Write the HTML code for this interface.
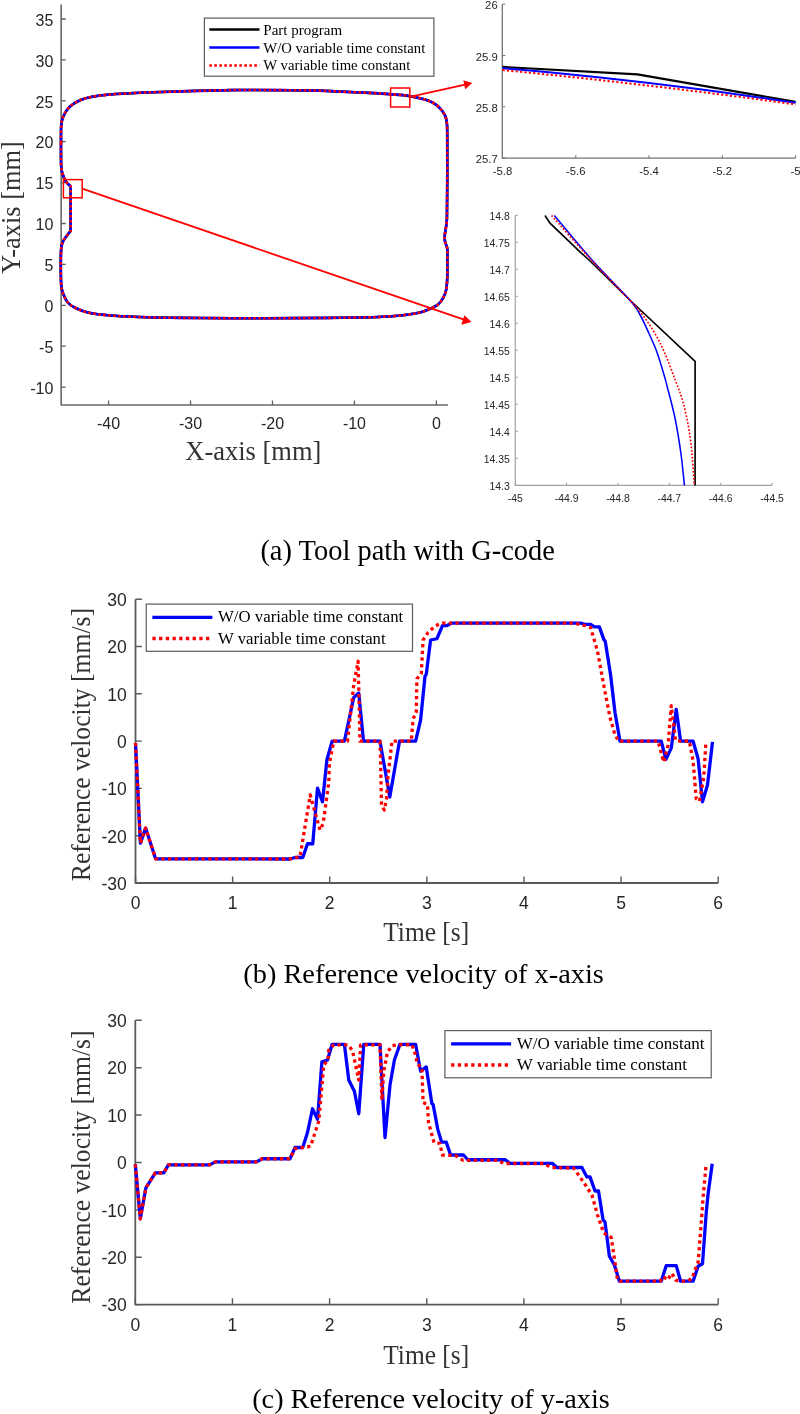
<!DOCTYPE html>
<html lang="en"><head><meta charset="utf-8"><title>Tool path and reference velocity</title>
<style>
html,body{margin:0;padding:0;background:#fff;}
body{width:800px;height:1414px;overflow:hidden;}
svg{display:block;will-change:transform;}
.sans{font-family:"Liberation Sans",Arial,Helvetica,sans-serif;fill:#262626;}
.serif{font-family:"Liberation Serif","Times New Roman",Times,serif;}
.lbl{fill:#333;}
.cap{fill:#000;}
.leg{fill:#000;}
</style></head><body>
<svg width="800" height="1414" viewBox="0 0 800 1414">
<rect x="0" y="0" width="800" height="1414" fill="#ffffff"/>

<g id="plot-a">
<path d="M61.15,4.4V405.0H447.9" fill="none" stroke="#686868" stroke-width="1.6" stroke-linejoin="round"/>
<path d="M61.15,19.00h4.6M61.15,59.90h4.6M61.15,100.80h4.6M61.15,141.70h4.6M61.15,182.60h4.6M61.15,223.50h4.6M61.15,264.40h4.6M61.15,305.30h4.6M61.15,346.20h4.6M61.15,387.10h4.6M108.60,405.0v-4.6M190.55,405.0v-4.6M272.50,405.0v-4.6M354.45,405.0v-4.6M436.40,405.0v-4.6" fill="none" stroke="#5e5e5e" stroke-width="1.3"/>
<text class="sans" x="53.3" y="25.70" font-size="16" text-anchor="end">35</text>
<text class="sans" x="53.3" y="66.60" font-size="16" text-anchor="end">30</text>
<text class="sans" x="53.3" y="107.50" font-size="16" text-anchor="end">25</text>
<text class="sans" x="53.3" y="148.40" font-size="16" text-anchor="end">20</text>
<text class="sans" x="53.3" y="189.30" font-size="16" text-anchor="end">15</text>
<text class="sans" x="53.3" y="230.20" font-size="16" text-anchor="end">10</text>
<text class="sans" x="53.3" y="271.10" font-size="16" text-anchor="end">5</text>
<text class="sans" x="53.3" y="312.00" font-size="16" text-anchor="end">0</text>
<text class="sans" x="53.3" y="352.90" font-size="16" text-anchor="end">-5</text>
<text class="sans" x="53.3" y="393.80" font-size="16" text-anchor="end">-10</text>
<text class="sans" x="108.60" y="428.6" font-size="16" text-anchor="middle">-40</text>
<text class="sans" x="190.55" y="428.6" font-size="16" text-anchor="middle">-30</text>
<text class="sans" x="272.50" y="428.6" font-size="16" text-anchor="middle">-20</text>
<text class="sans" x="354.45" y="428.6" font-size="16" text-anchor="middle">-10</text>
<text class="sans" x="436.40" y="428.6" font-size="16" text-anchor="middle">0</text>
<text class="serif lbl" x="185.3" y="460.3" font-size="28" textLength="136" lengthAdjust="spacingAndGlyphs">X-axis [mm]</text>
<text class="serif lbl" transform="translate(20.1,273.8) rotate(-90)" font-size="28" textLength="132.5" lengthAdjust="spacingAndGlyphs">Y-axis [mm]</text>
<path d="M61.00,143.00C61.04,140.00 60.83,129.50 61.25,125.00C61.67,120.50 62.12,119.00 63.50,116.00C64.88,113.00 66.75,109.62 69.50,107.00C72.25,104.38 76.25,101.95 80.00,100.25C83.75,98.55 87.00,97.76 92.00,96.80C97.00,95.84 102.00,95.17 110.00,94.50C118.00,93.83 130.00,93.22 140.00,92.75C150.00,92.28 154.58,92.14 170.00,91.70C185.42,91.26 212.50,90.35 232.50,90.10C252.50,89.85 275.62,90.12 290.00,90.20C304.38,90.28 310.42,90.37 318.75,90.60C327.08,90.83 331.46,91.22 340.00,91.60C348.54,91.98 361.50,92.47 370.00,92.90C378.50,93.33 384.50,93.68 391.00,94.20C397.50,94.72 403.50,95.15 409.00,96.00C414.50,96.85 420.00,98.17 424.00,99.30C428.00,100.42 430.38,101.30 433.00,102.75C435.62,104.20 437.75,105.88 439.75,108.00C441.75,110.12 443.79,112.75 445.00,115.50C446.21,118.25 446.62,118.75 447.00,124.50C447.38,130.25 447.21,140.75 447.25,150.00C447.29,159.25 447.29,170.00 447.25,180.00C447.21,190.00 447.09,203.00 447.00,210.00C446.91,217.00 447.07,217.75 446.70,222.00C446.32,226.25 445.03,232.25 444.75,235.50C444.47,238.75 444.57,239.25 445.00,241.50C445.43,243.75 446.92,245.58 447.30,249.00C447.68,252.42 447.30,257.50 447.30,262.00C447.30,266.50 447.48,271.42 447.30,276.00C447.12,280.58 446.93,285.88 446.25,289.50C445.57,293.12 444.62,295.25 443.25,297.75C441.88,300.25 440.12,302.68 438.00,304.50C435.88,306.32 433.50,307.37 430.50,308.70C427.50,310.03 424.25,311.45 420.00,312.50C415.75,313.55 411.25,314.28 405.00,315.00C398.75,315.72 390.00,316.38 382.50,316.80C375.00,317.22 373.75,317.28 360.00,317.50C346.25,317.72 318.33,317.97 300.00,318.10C281.67,318.23 266.67,318.32 250.00,318.30C233.33,318.28 213.33,318.09 200.00,318.00C186.67,317.91 180.00,317.92 170.00,317.75C160.00,317.58 150.00,317.38 140.00,317.00C130.00,316.62 118.50,316.20 110.00,315.50C101.50,314.80 94.75,314.05 89.00,312.80C83.25,311.55 79.00,309.68 75.50,308.00C72.00,306.32 70.00,305.00 68.00,302.75C66.00,300.50 64.62,297.38 63.50,294.50C62.38,291.62 61.70,290.50 61.25,285.50C60.80,280.50 60.80,270.75 60.80,264.50C60.80,258.25 60.80,252.00 61.25,248.00C61.70,244.00 62.50,242.62 63.50,240.50C64.50,238.38 66.05,236.88 67.25,235.25C68.45,233.62 70.12,231.50 70.70,230.75L70.70,186.50C69.88,185.62 67.08,183.25 65.75,181.25C64.42,179.25 63.50,176.88 62.75,174.50C62.00,172.12 61.54,170.25 61.25,167.00C60.96,163.75 61.04,159.00 61.00,155.00C60.96,151.00 61.00,145.00 61.00,143.00" fill="none" stroke="#000" stroke-width="2.5" stroke-linejoin="round"/>
<path d="M61.00,143.00C61.04,140.00 60.83,129.50 61.25,125.00C61.67,120.50 62.12,119.00 63.50,116.00C64.88,113.00 66.75,109.62 69.50,107.00C72.25,104.38 76.25,101.95 80.00,100.25C83.75,98.55 87.00,97.76 92.00,96.80C97.00,95.84 102.00,95.17 110.00,94.50C118.00,93.83 130.00,93.22 140.00,92.75C150.00,92.28 154.58,92.14 170.00,91.70C185.42,91.26 212.50,90.35 232.50,90.10C252.50,89.85 275.62,90.12 290.00,90.20C304.38,90.28 310.42,90.37 318.75,90.60C327.08,90.83 331.46,91.22 340.00,91.60C348.54,91.98 361.50,92.47 370.00,92.90C378.50,93.33 384.50,93.68 391.00,94.20C397.50,94.72 403.50,95.15 409.00,96.00C414.50,96.85 420.00,98.17 424.00,99.30C428.00,100.42 430.38,101.30 433.00,102.75C435.62,104.20 437.75,105.88 439.75,108.00C441.75,110.12 443.79,112.75 445.00,115.50C446.21,118.25 446.62,118.75 447.00,124.50C447.38,130.25 447.21,140.75 447.25,150.00C447.29,159.25 447.29,170.00 447.25,180.00C447.21,190.00 447.09,203.00 447.00,210.00C446.91,217.00 447.07,217.75 446.70,222.00C446.32,226.25 445.03,232.25 444.75,235.50C444.47,238.75 444.57,239.25 445.00,241.50C445.43,243.75 446.92,245.58 447.30,249.00C447.68,252.42 447.30,257.50 447.30,262.00C447.30,266.50 447.48,271.42 447.30,276.00C447.12,280.58 446.93,285.88 446.25,289.50C445.57,293.12 444.62,295.25 443.25,297.75C441.88,300.25 440.12,302.68 438.00,304.50C435.88,306.32 433.50,307.37 430.50,308.70C427.50,310.03 424.25,311.45 420.00,312.50C415.75,313.55 411.25,314.28 405.00,315.00C398.75,315.72 390.00,316.38 382.50,316.80C375.00,317.22 373.75,317.28 360.00,317.50C346.25,317.72 318.33,317.97 300.00,318.10C281.67,318.23 266.67,318.32 250.00,318.30C233.33,318.28 213.33,318.09 200.00,318.00C186.67,317.91 180.00,317.92 170.00,317.75C160.00,317.58 150.00,317.38 140.00,317.00C130.00,316.62 118.50,316.20 110.00,315.50C101.50,314.80 94.75,314.05 89.00,312.80C83.25,311.55 79.00,309.68 75.50,308.00C72.00,306.32 70.00,305.00 68.00,302.75C66.00,300.50 64.62,297.38 63.50,294.50C62.38,291.62 61.70,290.50 61.25,285.50C60.80,280.50 60.80,270.75 60.80,264.50C60.80,258.25 60.80,252.00 61.25,248.00C61.70,244.00 62.50,242.62 63.50,240.50C64.50,238.38 66.05,236.88 67.25,235.25C68.45,233.62 70.12,231.50 70.70,230.75L70.70,186.50C69.88,185.62 67.08,183.25 65.75,181.25C64.42,179.25 63.50,176.88 62.75,174.50C62.00,172.12 61.54,170.25 61.25,167.00C60.96,163.75 61.04,159.00 61.00,155.00C60.96,151.00 61.00,145.00 61.00,143.00" fill="none" stroke="#0000ff" stroke-width="2.6" stroke-linejoin="round"/>
<path d="M61.00,143.00C61.04,140.00 60.83,129.50 61.25,125.00C61.67,120.50 62.12,119.00 63.50,116.00C64.88,113.00 66.75,109.62 69.50,107.00C72.25,104.38 76.25,101.95 80.00,100.25C83.75,98.55 87.00,97.76 92.00,96.80C97.00,95.84 102.00,95.17 110.00,94.50C118.00,93.83 130.00,93.22 140.00,92.75C150.00,92.28 154.58,92.14 170.00,91.70C185.42,91.26 212.50,90.35 232.50,90.10C252.50,89.85 275.62,90.12 290.00,90.20C304.38,90.28 310.42,90.37 318.75,90.60C327.08,90.83 331.46,91.22 340.00,91.60C348.54,91.98 361.50,92.47 370.00,92.90C378.50,93.33 384.50,93.68 391.00,94.20C397.50,94.72 403.50,95.15 409.00,96.00C414.50,96.85 420.00,98.17 424.00,99.30C428.00,100.42 430.38,101.30 433.00,102.75C435.62,104.20 437.75,105.88 439.75,108.00C441.75,110.12 443.79,112.75 445.00,115.50C446.21,118.25 446.62,118.75 447.00,124.50C447.38,130.25 447.21,140.75 447.25,150.00C447.29,159.25 447.29,170.00 447.25,180.00C447.21,190.00 447.09,203.00 447.00,210.00C446.91,217.00 447.07,217.75 446.70,222.00C446.32,226.25 445.03,232.25 444.75,235.50C444.47,238.75 444.57,239.25 445.00,241.50C445.43,243.75 446.92,245.58 447.30,249.00C447.68,252.42 447.30,257.50 447.30,262.00C447.30,266.50 447.48,271.42 447.30,276.00C447.12,280.58 446.93,285.88 446.25,289.50C445.57,293.12 444.62,295.25 443.25,297.75C441.88,300.25 440.12,302.68 438.00,304.50C435.88,306.32 433.50,307.37 430.50,308.70C427.50,310.03 424.25,311.45 420.00,312.50C415.75,313.55 411.25,314.28 405.00,315.00C398.75,315.72 390.00,316.38 382.50,316.80C375.00,317.22 373.75,317.28 360.00,317.50C346.25,317.72 318.33,317.97 300.00,318.10C281.67,318.23 266.67,318.32 250.00,318.30C233.33,318.28 213.33,318.09 200.00,318.00C186.67,317.91 180.00,317.92 170.00,317.75C160.00,317.58 150.00,317.38 140.00,317.00C130.00,316.62 118.50,316.20 110.00,315.50C101.50,314.80 94.75,314.05 89.00,312.80C83.25,311.55 79.00,309.68 75.50,308.00C72.00,306.32 70.00,305.00 68.00,302.75C66.00,300.50 64.62,297.38 63.50,294.50C62.38,291.62 61.70,290.50 61.25,285.50C60.80,280.50 60.80,270.75 60.80,264.50C60.80,258.25 60.80,252.00 61.25,248.00C61.70,244.00 62.50,242.62 63.50,240.50C64.50,238.38 66.05,236.88 67.25,235.25C68.45,233.62 70.12,231.50 70.70,230.75L70.70,186.50C69.88,185.62 67.08,183.25 65.75,181.25C64.42,179.25 63.50,176.88 62.75,174.50C62.00,172.12 61.54,170.25 61.25,167.00C60.96,163.75 61.04,159.00 61.00,155.00C60.96,151.00 61.00,145.00 61.00,143.00" fill="none" stroke="#ff0000" stroke-width="2.6" stroke-dasharray="2.6 2.4" stroke-linejoin="round"/>
<rect x="390.6" y="88" width="19.2" height="19" fill="none" stroke="#ff0000" stroke-width="1.5"/>
<rect x="63.4" y="179.6" width="18.8" height="18.2" fill="none" stroke="#ff0000" stroke-width="1.5"/>
<path d="M409.8,96.8L465,84.7" stroke="#ff0000" stroke-width="1.8" fill="none"/>
<path d="M472.3,83.1L463.3,80.2L465.2,89.2Z" fill="#ff0000"/>
<path d="M82.2,188.7L464,319.6" stroke="#ff0000" stroke-width="1.8" fill="none"/>
<path d="M471.5,322.1L464.4,315.2L461.2,324.7Z" fill="#ff0000"/>
<rect x="204.4" y="18.1" width="229.5" height="58.1" fill="#fff" stroke="#5c5c5c" stroke-width="1.2"/>
<path d="M209.3,29.4H259.5" stroke="#000" stroke-width="2.5"/>
<path d="M209.3,47.5H259.5" stroke="#0000ff" stroke-width="2.5"/>
<path d="M209.3,65.5H259.5" stroke="#ff0000" stroke-width="2.6" stroke-dasharray="2.6 2.4"/>
<text class="serif leg" x="263.3" y="34.7" font-size="14.7" textLength="78.8" lengthAdjust="spacingAndGlyphs">Part program</text>
<text class="serif leg" x="263.3" y="52.6" font-size="14.7">W/O variable time constant</text>
<text class="serif leg" x="263.3" y="70.3" font-size="14.7">W variable time constant</text>
</g>
<g id="inset-1">
<path d="M502.3,4.2V158.2H795.6" fill="none" stroke="#737373" stroke-width="1.3"/>
<path d="M502.3,4.2h3M502.3,55.5h3M502.3,106.8h3M502.3,158.1h3M502.5,158.2v-3M575.8,158.2v-3M649.05,158.2v-3M722.3,158.2v-3M795.6,158.2v-3" fill="none" stroke="#737373" stroke-width="1"/>
<text class="sans" x="497.7" y="9.20" font-size="11.3" text-anchor="end">26</text>
<text class="sans" x="497.7" y="60.50" font-size="11.3" text-anchor="end">25.9</text>
<text class="sans" x="497.7" y="111.80" font-size="11.3" text-anchor="end">25.8</text>
<text class="sans" x="497.7" y="163.10" font-size="11.3" text-anchor="end">25.7</text>
<text class="sans" x="502.5" y="174.6" font-size="11.3" text-anchor="middle">-5.8</text>
<text class="sans" x="575.8" y="174.6" font-size="11.3" text-anchor="middle">-5.6</text>
<text class="sans" x="649.05" y="174.6" font-size="11.3" text-anchor="middle">-5.4</text>
<text class="sans" x="722.3" y="174.6" font-size="11.3" text-anchor="middle">-5.2</text>
<text class="sans" x="795.6" y="174.6" font-size="11.3" text-anchor="middle">-5</text>
<path d="M502.50,66.90L637.40,74.40L795.60,101.80" fill="none" stroke="#000" stroke-width="2.1" stroke-linejoin="round"/>
<path d="M502.50,68.20L526.92,70.34L551.35,72.61L575.77,75.02L600.20,77.56L624.62,80.24L649.05,83.05L673.48,86.01L697.90,89.09L722.33,92.31L746.75,95.67L771.17,99.16L795.60,102.79" fill="none" stroke="#0000ff" stroke-width="2.0"/>
<path d="M502.50,70.10L526.92,72.47L551.35,74.92L575.77,77.47L600.20,80.11L624.62,82.84L649.05,85.65L673.48,88.56L697.90,91.56L722.33,94.66L746.75,97.84L771.17,101.11L795.60,104.47" fill="none" stroke="#ff0000" stroke-width="2.0" stroke-dasharray="2.2 2.2"/>
</g>
<g id="inset-2">
<path d="M515.3,215.3V485.3H772.0" fill="none" stroke="#a2a2a2" stroke-width="1.2"/>
<path d="M515.3,215.30h2.6M515.3,242.30h2.6M515.3,269.30h2.6M515.3,296.30h2.6M515.3,323.30h2.6M515.3,350.30h2.6M515.3,377.30h2.6M515.3,404.30h2.6M515.3,431.30h2.6M515.3,458.30h2.6M515.3,485.30h2.6M515.30,485.3v-2.6M566.64,485.3v-2.6M617.98,485.3v-2.6M669.32,485.3v-2.6M720.66,485.3v-2.6M772.00,485.3v-2.6" fill="none" stroke="#a2a2a2" stroke-width="1"/>
<text class="sans" x="509.8" y="220.10" font-size="10.4" text-anchor="end">14.8</text>
<text class="sans" x="509.8" y="247.10" font-size="10.4" text-anchor="end">14.75</text>
<text class="sans" x="509.8" y="274.10" font-size="10.4" text-anchor="end">14.7</text>
<text class="sans" x="509.8" y="301.10" font-size="10.4" text-anchor="end">14.65</text>
<text class="sans" x="509.8" y="328.10" font-size="10.4" text-anchor="end">14.6</text>
<text class="sans" x="509.8" y="355.10" font-size="10.4" text-anchor="end">14.55</text>
<text class="sans" x="509.8" y="382.10" font-size="10.4" text-anchor="end">14.5</text>
<text class="sans" x="509.8" y="409.10" font-size="10.4" text-anchor="end">14.45</text>
<text class="sans" x="509.8" y="436.10" font-size="10.4" text-anchor="end">14.4</text>
<text class="sans" x="509.8" y="463.10" font-size="10.4" text-anchor="end">14.35</text>
<text class="sans" x="509.8" y="490.10" font-size="10.4" text-anchor="end">14.3</text>
<text class="sans" x="515.30" y="501.7" font-size="10.4" text-anchor="middle">-45</text>
<text class="sans" x="566.64" y="501.7" font-size="10.4" text-anchor="middle">-44.9</text>
<text class="sans" x="617.98" y="501.7" font-size="10.4" text-anchor="middle">-44.8</text>
<text class="sans" x="669.32" y="501.7" font-size="10.4" text-anchor="middle">-44.7</text>
<text class="sans" x="720.66" y="501.7" font-size="10.4" text-anchor="middle">-44.6</text>
<text class="sans" x="772.00" y="501.7" font-size="10.4" text-anchor="middle">-44.5</text>
<path d="M545.00,215.50L550.00,223.10L580.00,251.90L589.00,260.00L629.50,299.75L695.10,361.30L695.10,485.40" fill="none" stroke="#000" stroke-width="1.65" stroke-linejoin="miter"/>
<path d="M554.40,215.50C560.67,222.92 579.48,245.96 592.00,260.00C604.52,274.04 621.50,290.62 629.50,299.75C637.50,308.88 636.75,309.12 640.00,314.75C643.25,320.38 646.12,327.12 649.00,333.50C651.88,339.88 654.50,345.25 657.25,353.00C660.00,360.75 663.88,374.50 665.50,380.00C667.12,385.50 665.42,379.67 667.00,386.00C668.58,392.33 672.67,406.67 675.00,418.00C677.33,429.33 679.43,442.77 681.00,454.00C682.57,465.23 683.83,480.17 684.40,485.40" fill="none" stroke="#0000ff" stroke-width="1.55"/>
<path d="M551.60,215.50C558.21,222.92 578.27,245.96 591.25,260.00C604.23,274.04 620.88,290.50 629.50,299.75C638.12,309.00 638.75,309.88 643.00,315.50C647.25,321.12 651.38,327.25 655.00,333.50C658.62,339.75 661.38,345.25 664.75,353.00C668.12,360.75 672.21,371.83 675.25,380.00C678.29,388.17 680.71,393.67 683.00,402.00C685.29,410.33 687.43,420.67 689.00,430.00C690.57,439.33 691.53,448.77 692.40,458.00C693.27,467.23 693.90,480.83 694.20,485.40" fill="none" stroke="#ff0000" stroke-width="1.65" stroke-dasharray="1.75 1.75"/>
</g>
<text class="serif cap" x="260.4" y="559.7" font-size="28.4" textLength="294.5" lengthAdjust="spacingAndGlyphs">(a) Tool path with G-code</text>
<g id="plot-b">
<path d="M135.5,599.2V883.0H718.2" fill="none" stroke="#5a5a5a" stroke-width="1.8" stroke-linejoin="round"/>
<path d="M135.5,599.20h6.4M135.5,646.50h6.4M135.5,693.80h6.4M135.5,741.10h6.4M135.5,788.40h6.4M135.5,835.70h6.4M135.5,883.00h6.4M135.50,883.0v-6.4M232.62,883.0v-6.4M329.73,883.0v-6.4M426.85,883.0v-6.4M523.97,883.0v-6.4M621.08,883.0v-6.4M718.20,883.0v-6.4" fill="none" stroke="#5a5a5a" stroke-width="1.4"/>
<text class="sans" x="126.7" y="606.00" font-size="17.5" text-anchor="end">30</text>
<text class="sans" x="126.7" y="653.30" font-size="17.5" text-anchor="end">20</text>
<text class="sans" x="126.7" y="700.60" font-size="17.5" text-anchor="end">10</text>
<text class="sans" x="126.7" y="747.90" font-size="17.5" text-anchor="end">0</text>
<text class="sans" x="126.7" y="795.20" font-size="17.5" text-anchor="end">-10</text>
<text class="sans" x="126.7" y="842.50" font-size="17.5" text-anchor="end">-20</text>
<text class="sans" x="126.7" y="889.80" font-size="17.5" text-anchor="end">-30</text>
<text class="sans" x="135.50" y="909.0" font-size="17.5" text-anchor="middle">0</text>
<text class="sans" x="232.62" y="909.0" font-size="17.5" text-anchor="middle">1</text>
<text class="sans" x="329.73" y="909.0" font-size="17.5" text-anchor="middle">2</text>
<text class="sans" x="426.85" y="909.0" font-size="17.5" text-anchor="middle">3</text>
<text class="sans" x="523.97" y="909.0" font-size="17.5" text-anchor="middle">4</text>
<text class="sans" x="621.08" y="909.0" font-size="17.5" text-anchor="middle">5</text>
<text class="sans" x="718.20" y="909.0" font-size="17.5" text-anchor="middle">6</text>
<text class="serif lbl" transform="translate(90.0,881.2) rotate(-90)" font-size="27.8" textLength="273.2" lengthAdjust="spacingAndGlyphs">Reference velocity [mm/s]</text>
<text class="serif lbl" x="383.2" y="941.2" font-size="27.6" textLength="86" lengthAdjust="spacingAndGlyphs">Time [s]</text>
<path d="M135.50,743.00L140.40,843.10L145.60,828.10L155.60,858.80L290.00,859.00L295.00,857.50L302.75,857.50L307.50,843.75L312.75,843.75L317.50,788.10L322.50,801.90L326.90,760.00L332.10,741.20L344.40,741.20L353.75,697.50L358.75,693.10L363.50,741.20L380.00,741.20L389.80,797.00L399.50,741.20L415.60,741.20L420.60,720.00L425.00,676.25L426.25,674.40L430.60,640.00L436.90,638.75L442.50,625.60L446.90,625.60L451.25,623.20L581.25,623.20L585.00,624.40L590.60,624.40L594.40,626.90L599.40,626.90L603.75,639.40L605.25,641.25L610.60,675.00L615.00,712.50L620.00,741.20L661.25,741.20L665.90,759.40L671.25,748.10L676.25,709.40L680.60,741.20L693.10,741.20L698.10,758.75L702.50,801.90L707.50,785.00L712.50,741.90" fill="none" stroke="#0000ff" stroke-width="3.3" stroke-linejoin="round" stroke-linecap="butt"/>
<path d="M135.50,743.00L140.40,843.10L145.60,828.10L155.60,858.80L290.00,859.00L300.00,856.90L310.25,795.00L320.00,830.00L323.10,823.75L328.75,782.50L329.40,763.75L333.75,741.20L347.50,741.20L353.75,685.00L358.10,661.25L360.00,741.20L380.00,741.20L380.50,757.00L381.50,805.00L384.30,810.00L386.50,799.00L388.00,776.00L392.00,741.20L411.25,741.20L413.10,718.75L416.25,712.50L416.90,678.75L421.25,673.75L423.10,640.00L428.10,632.50L435.60,625.60L442.50,623.20L573.75,623.20L585.00,625.60L590.60,627.50L597.50,651.25L603.75,685.00L610.00,717.50L615.00,735.00L618.75,741.20L658.10,741.20L663.75,761.90L668.10,745.00L671.25,705.60L675.60,740.60L680.00,741.20L689.40,741.20L693.10,761.25L696.25,798.75L699.40,801.25L703.75,777.50L705.90,742.50" fill="none" stroke="#ff0000" stroke-width="3.3" stroke-dasharray="3.3 3.4" stroke-linejoin="round"/>
<rect x="146.2" y="604.1" width="266.3" height="47.2" fill="#fff" stroke="#5c5c5c" stroke-width="1.2"/>
<path d="M152.39999999999998,617.3000000000001h60" stroke="#0000ff" stroke-width="3.3"/>
<path d="M152.39999999999998,638.5h60" stroke="#ff0000" stroke-width="3.3" stroke-dasharray="3.3 3.4"/>
<text class="serif leg" x="218.0" y="622.4" font-size="16.9" textLength="185.2" lengthAdjust="spacingAndGlyphs">W/O variable time constant</text>
<text class="serif leg" x="218.0" y="643.6" font-size="16.9" textLength="167.6" lengthAdjust="spacingAndGlyphs">W variable time constant</text>
</g>
<text class="serif cap" x="243.3" y="982.5" font-size="28.3" textLength="360.6" lengthAdjust="spacingAndGlyphs">(b) Reference velocity of x-axis</text>
<g id="plot-c">
<path d="M135.3,1020.3V1304.6H718.2" fill="none" stroke="#5a5a5a" stroke-width="1.8" stroke-linejoin="round"/>
<path d="M135.3,1020.30h6.4M135.3,1067.68h6.4M135.3,1115.07h6.4M135.3,1162.45h6.4M135.3,1209.83h6.4M135.3,1257.22h6.4M135.3,1304.60h6.4M135.30,1304.6v-6.4M232.45,1304.6v-6.4M329.60,1304.6v-6.4M426.75,1304.6v-6.4M523.90,1304.6v-6.4M621.05,1304.6v-6.4M718.20,1304.6v-6.4" fill="none" stroke="#5a5a5a" stroke-width="1.4"/>
<text class="sans" x="126.7" y="1027.10" font-size="17.5" text-anchor="end">30</text>
<text class="sans" x="126.7" y="1074.48" font-size="17.5" text-anchor="end">20</text>
<text class="sans" x="126.7" y="1121.87" font-size="17.5" text-anchor="end">10</text>
<text class="sans" x="126.7" y="1169.25" font-size="17.5" text-anchor="end">0</text>
<text class="sans" x="126.7" y="1216.63" font-size="17.5" text-anchor="end">-10</text>
<text class="sans" x="126.7" y="1264.02" font-size="17.5" text-anchor="end">-20</text>
<text class="sans" x="126.7" y="1311.40" font-size="17.5" text-anchor="end">-30</text>
<text class="sans" x="135.30" y="1331.2" font-size="17.5" text-anchor="middle">0</text>
<text class="sans" x="232.45" y="1331.2" font-size="17.5" text-anchor="middle">1</text>
<text class="sans" x="329.60" y="1331.2" font-size="17.5" text-anchor="middle">2</text>
<text class="sans" x="426.75" y="1331.2" font-size="17.5" text-anchor="middle">3</text>
<text class="sans" x="523.90" y="1331.2" font-size="17.5" text-anchor="middle">4</text>
<text class="sans" x="621.05" y="1331.2" font-size="17.5" text-anchor="middle">5</text>
<text class="sans" x="718.20" y="1331.2" font-size="17.5" text-anchor="middle">6</text>
<text class="serif lbl" transform="translate(90.0,1303.7) rotate(-90)" font-size="27.8" textLength="273.2" lengthAdjust="spacingAndGlyphs">Reference velocity [mm/s]</text>
<text class="serif lbl" x="383.2" y="1363.7" font-size="27.6" textLength="86" lengthAdjust="spacingAndGlyphs">Time [s]</text>
<path d="M135.30,1164.40L140.30,1218.75L145.90,1187.80L155.30,1172.80L163.75,1172.80L168.40,1164.90L209.70,1164.90L215.30,1161.90L256.60,1161.90L262.20,1158.75L290.00,1158.75L295.00,1147.50L302.75,1147.50L307.50,1132.50L312.50,1108.75L317.50,1119.40L321.90,1061.90L327.50,1060.00L332.10,1044.30L344.40,1044.30L348.75,1080.00L354.40,1091.25L358.75,1113.75L363.75,1044.30L380.00,1044.30L385.00,1137.50L390.00,1085.00L394.40,1060.00L400.00,1044.30L415.60,1044.30L420.60,1071.25L426.25,1066.90L431.90,1103.75L433.10,1104.40L437.80,1129.40L441.60,1142.10L446.25,1142.10L450.60,1155.00L463.50,1155.00L467.80,1159.75L505.30,1159.75L510.00,1163.30L552.20,1163.30L556.90,1167.50L581.90,1167.50L586.90,1176.90L590.00,1176.90L595.00,1191.00L598.50,1191.00L603.10,1220.00L605.00,1221.90L609.40,1256.25L614.40,1265.00L619.40,1281.20L661.25,1281.20L666.25,1265.60L676.25,1265.60L680.60,1281.20L693.10,1281.20L698.10,1266.25L702.50,1263.75L706.25,1212.50L708.10,1193.75L712.25,1163.75" fill="none" stroke="#0000ff" stroke-width="3.3" stroke-linejoin="round" stroke-linecap="butt"/>
<path d="M135.30,1164.40L140.30,1218.75L145.90,1187.80L155.30,1172.80L163.75,1172.80L168.40,1164.90L209.70,1164.90L215.30,1161.90L256.60,1161.90L262.20,1158.75L290.00,1158.75L295.00,1148.75L310.60,1146.25L318.75,1121.25L323.75,1065.00L328.10,1060.00L328.75,1050.00L333.75,1044.80L348.10,1044.80L352.50,1050.60L358.75,1080.00L360.60,1044.80L380.00,1044.80L381.90,1100.00L383.75,1071.25L387.50,1051.90L392.50,1045.60L397.50,1044.75L411.90,1044.75L415.60,1055.00L417.50,1064.40L421.90,1067.50L423.10,1102.50L427.50,1104.50L428.40,1121.90L434.00,1142.50L439.70,1143.40L442.50,1155.00L455.60,1155.60L463.10,1160.30L496.90,1160.30L504.40,1163.50L543.75,1163.50L551.25,1167.50L573.75,1168.10L583.75,1182.50L591.90,1195.00L597.50,1215.00L603.75,1233.10L611.25,1237.50L615.00,1262.50L617.50,1280.00L619.40,1281.20L660.00,1281.20L663.50,1276.60L667.50,1280.00L671.90,1273.40L675.80,1280.20L680.00,1281.20L686.90,1281.20L691.90,1278.75L695.00,1270.00L698.10,1262.50L700.60,1231.25L703.10,1197.50L706.00,1165.60" fill="none" stroke="#ff0000" stroke-width="3.3" stroke-dasharray="3.3 3.4" stroke-linejoin="round"/>
<rect x="444.9" y="1030.6" width="266.3" height="47.2" fill="#fff" stroke="#5c5c5c" stroke-width="1.2"/>
<path d="M451.09999999999997,1043.8h60" stroke="#0000ff" stroke-width="3.3"/>
<path d="M451.09999999999997,1065.0h60" stroke="#ff0000" stroke-width="3.3" stroke-dasharray="3.3 3.4"/>
<text class="serif leg" x="516.6999999999999" y="1048.8999999999999" font-size="16.9" textLength="187.8" lengthAdjust="spacingAndGlyphs">W/O variable time constant</text>
<text class="serif leg" x="516.6999999999999" y="1070.1" font-size="16.9" textLength="170.4" lengthAdjust="spacingAndGlyphs">W variable time constant</text>
</g>
<text class="serif cap" x="252.2" y="1407.8" font-size="28.3" textLength="357.6" lengthAdjust="spacingAndGlyphs">(c) Reference velocity of y-axis</text>
</svg></body></html>
